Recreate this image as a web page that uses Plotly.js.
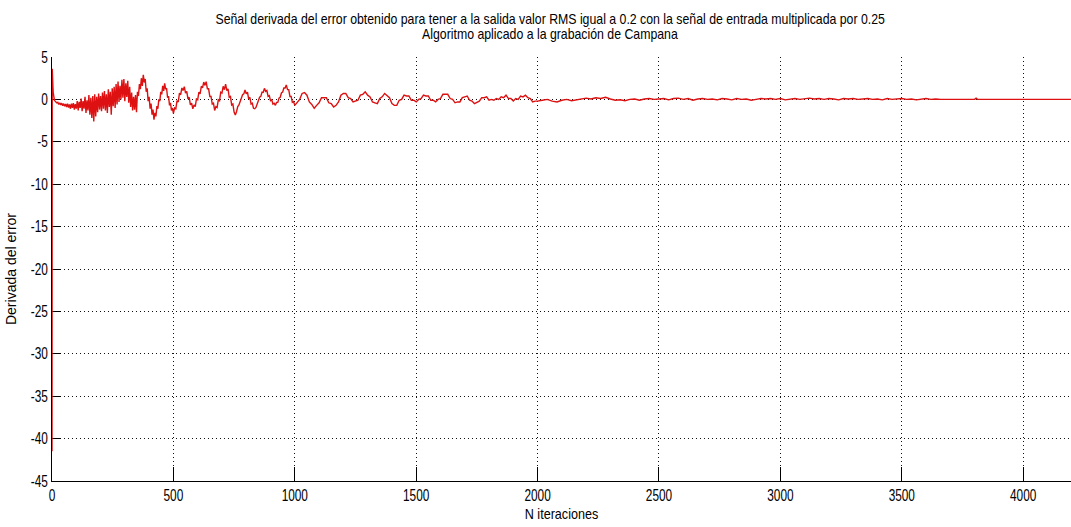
<!DOCTYPE html>
<html>
<head>
<meta charset="utf-8">
<script src="https://cdn.plot.ly/plotly-3.0.1.min.js"></script>
<style>
  html, body { margin: 0; padding: 0; background: #ffffff; }
  #chart { width: 1071px; height: 527px; }
</style>
</head>
<body>
<div id="chart"></div>
<script>
// Derivative of the error signal, sampled per iteration.
// Each block: first iteration, iteration step, samples.

// start-up transient (iterations 0..20)
const inicioX0 = 0, inicioPaso = 1;
const inicio = [-41.5, 3.6, 3.0, 2.2, 1.4, 0.8, 0.4, 0.2, 0.1, 0.0, -0.1,
  -0.15, -0.2, -0.25, -0.3, -0.3, -0.35, -0.35, -0.4, -0.4, -0.42];

// noisy growing oscillation (iterations 24..500)
const ruidoX0 = 24, ruidoPaso = 4;
const ruido = [
  -0.35, -0.6, -0.4, -0.65, -0.45, -0.75, -0.5, -0.8, -0.55, -0.9,
  -0.5, -0.95, -0.6, -1.1, -0.5, -1.0, -0.45, -1.2, -0.55, -1.1,
  -0.2, -1.3, -0.3, -1.0, 0.1, -1.4, -0.2, -1.1, 0.3, -1.6,
  -0.1, -1.3, 0.5, -1.8, 0.2, -2.2, 0.4, -2.6, 0.6, -2.0,
  0.3, -1.5, 0.7, -1.2, 0.4,
  -1.4, 0.8, -1.1, 1.0, -1.3, 0.6, -1.6, 1.2, -0.9, 0.9,
  -1.8, 1.3, -0.8, 1.5, -1.0,
  1.8, -0.6, 2.1, -0.3, 1.6, 0.0, 2.3, 0.2, 2.4, -0.2,
  1.9, 0.3, 2.2, -0.4, 1.5,
  -0.9, 0.8, -1.3, 0.3, -1.2, 0.5, -1.5, 0.9, 0.4, 1.8,
  1.2, 2.5, 1.6, 2.9, 2.0,
  2.4, 0.9, 1.3, -0.2, 0.3, -1.1, -0.5, -1.8, -1.2, -2.4,
  -1.6, -2.0, -0.8, -1.1, 0.0,
  -0.2, 0.9, 0.6, 1.6, 1.0, 1.9, 1.2, 1.3, 0.2, 0.4,
  -0.7, -0.4, -1.3, -1.0, -1.65
];

// decaying oscillation (iterations 505..1000)
const ondaX0 = 505, ondaPaso = 5;
const onda = [
  -1.0, -1.1, -0.15, -0.3, 0.75, 0.55, 1.35, 1.05, 1.5, 0.75,
  0.95, 0.05, 0.25, -0.65, -0.45, -1.1, -0.65, -0.85, 0.05, -0.05,
  0.85, 0.65, 1.55, 1.35, 2.05, 1.65, 2.1, 1.25, 1.25, 0.35,
  0.35, -0.55, -0.45, -1.3, -0.85, -0.95, -0.05, -0.15, 0.85, 0.75,
  1.55, 1.15, 1.8, 1.05, 1.25, 0.25, 0.35, -0.65, -0.55, -1.5,
  -1.85, -1.45, -0.85, -0.65, -0.15, 0.05, 0.55, 0.65, 1.1, 0.65,
  0.85, 0.05, 0.25, -0.55, -0.45, -1.05, -1.1, -0.95, -0.45, -0.25,
  0.25, 0.35, 0.85, 0.85, 1.3, 0.95, 1.05, 0.35, 0.45, -0.15,
  -0.05, -0.55, -0.45, -0.7, -0.35, -0.35, 0.15, 0.25, 0.75, 0.85,
  1.35, 1.35, 1.7, 1.15, 1.15, 0.35, 0.35, -0.35, -0.25, -0.7
];

// small oscillation (iterations 1010..2000)
const colaX0 = 1010, colaPaso = 10;
const cola = [
  -0.4, 0.0, 0.7, 0.8, 0.5, -0.3, -0.6, -1.05, -0.7, -0.4,
  0.2, 0.2, 0.2, -0.4, -0.5, -0.9, -0.7, -0.3, 0.5, 0.7,
  0.7, 0.2, 0.1, -0.3, -0.2, -0.1, 0.5, 0.6, 0.9, 0.5,
  0.3, -0.3, -0.4, -0.5, 0.1, 0.3, 0.7, 0.4, 0.2, -0.5,
  -0.7, -0.7, -0.1, 0.0, 0.5, 0.4, 0.4, -0.1, -0.1, -0.3,
  0.0, 0.1, 0.5, 0.4, 0.4, -0.1, -0.1, -0.3, 0.0, 0.1,
  0.6, 0.6, 0.6, 0.1, 0.0, -0.4, -0.3, -0.3, 0.2, 0.3,
  0.4, -0.1, -0.2, -0.5, -0.3, -0.2, 0.2, 0.2, 0.3, -0.1,
  0.0, -0.1, 0.1, 0.0, 0.3, 0.2, 0.5, 0.1, 0.1, -0.2,
  0.1, 0.0, 0.4, 0.3, 0.5, 0.2, 0.1, -0.3, -0.2, -0.2
];

// residual (iterations 2020..3660)
const restoX0 = 2020, restoPaso = 20;
const resto = [
  -0.1, 0.0, -0.2, -0.3, -0.1, 0.0, -0.15, -0.05, 0.1, 0.15,
  0.05, 0.2, 0.1, 0.25, 0.05, -0.1, -0.05, -0.15, 0.0, 0.05,
  -0.1, 0.05, 0.1, 0.0, 0.05, 0.1, -0.05, 0.1, 0.15, 0.0,
  0.1, -0.1, 0.05, 0.1, 0.0, 0.05, -0.05, 0.1, 0.05, -0.05,
  0.1, 0.0, 0.05, -0.1, 0.0, 0.1, 0.05, 0.1, 0.0, 0.1,
  -0.05, 0.05, 0.1, 0.0, 0.1, 0.15, 0.05, 0.1, 0.0, 0.1,
  0.05, -0.05, 0.1, 0.05, 0.1, 0.0, 0.05, 0.1, 0.0, 0.05,
  -0.05, 0.1, 0.0, 0.05, 0.1, 0.0, 0.05, -0.05, 0.05, 0.1,
  0.0, 0.05, 0.0
];

// converged (flat) part
const finalX = [3680, 3800, 3806, 3812, 4200];
const finalY = [0, 0, 0.15, 0, 0];

const xs = [], ys = [];
function agrega(x0, paso, vals) {
  vals.forEach((v, i) => { xs.push(x0 + i * paso); ys.push(v); });
}
agrega(inicioX0, inicioPaso, inicio);
agrega(ruidoX0, ruidoPaso, ruido);
agrega(ondaX0, ondaPaso, onda);
agrega(colaX0, colaPaso, cola);
agrega(restoX0, restoPaso, resto);
finalX.forEach((x, i) => { xs.push(x); ys.push(finalY[i]); });

const xTicks = [0, 500, 1000, 1500, 2000, 2500, 3000, 3500, 4000];
const yTicks = [5, 0, -5, -10, -15, -20, -25, -30, -35, -40, -45];

const fuente = 'Liberation Sans, Arial, sans-serif';

const traza = {
  x: xs, y: ys, type: 'scatter', mode: 'lines',
  line: { color: '#dd1111', width: 1.4 },
  hoverinfo: 'skip'
};

const ejeComun = {
  showline: true, linecolor: '#000', linewidth: 1,
  ticks: 'inside', tickcolor: '#000', tickwidth: 1,
  showgrid: true, gridcolor: '#111', gridwidth: 1, griddash: '1px,3px',
  zeroline: false, mirror: false, layer: 'below traces',
  tickfont: { family: fuente, size: 16, color: '#000' }
};

const layout = {
  width: 1071, height: 527,
  margin: { l: 52, r: 0, t: 57, b: 46 },
  paper_bgcolor: '#fff', plot_bgcolor: '#fff',
  showlegend: false,
  font: { family: fuente, color: '#000' },
  xaxis: Object.assign({}, ejeComun, {
    range: [0, 4197], tickvals: xTicks, ticktext: xTicks.map(String),
    ticklen: 14,
    title: { text: 'N iteraciones', font: { family: fuente, size: 15, color: '#000' }, standoff: 5 }
  }),
  yaxis: Object.assign({}, ejeComun, {
    range: [-45, 5], tickvals: yTicks, ticktext: yTicks.map(String),
    ticklen: 9,
    title: { text: 'Derivada del error', font: { family: fuente, size: 14, color: '#000' }, standoff: 4 }
  }),
  annotations: [
    { text: 'Señal derivada del error obtenido para tener a la salida valor RMS igual a 0.2 con la señal de entrada multiplicada por 0.25',
      xref: 'paper', yref: 'paper', x: 0.489, y: 1, yshift: 39, xanchor: 'center', yanchor: 'middle',
      showarrow: false, font: { family: fuente, size: 15, color: '#000' } },
    { text: 'Algoritmo aplicado a la grabación de Campana',
      xref: 'paper', yref: 'paper', x: 0.489, y: 1, yshift: 24, xanchor: 'center', yanchor: 'middle',
      showarrow: false, font: { family: fuente, size: 15, color: '#000' } }
  ]
};

// MATLAB-style condensed lettering for horizontal texts
function condensa(selector, factor) {
  document.querySelectorAll(selector).forEach(t => {
    const w = t.getComputedTextLength();
    if (w > 0) {
      t.setAttribute('textLength', (w * factor).toFixed(1));
      t.setAttribute('lengthAdjust', 'spacingAndGlyphs');
    }
  });
}

Plotly.newPlot('chart', [traza], layout, { staticPlot: true, displayModeBar: false })
  .then(() => {
    condensa('.xtick text, .ytick text', 0.74);
    condensa('.annotation-text', 0.82);
    condensa('.g-xtitle text', 0.84);
  });
</script>
</body>
</html>
